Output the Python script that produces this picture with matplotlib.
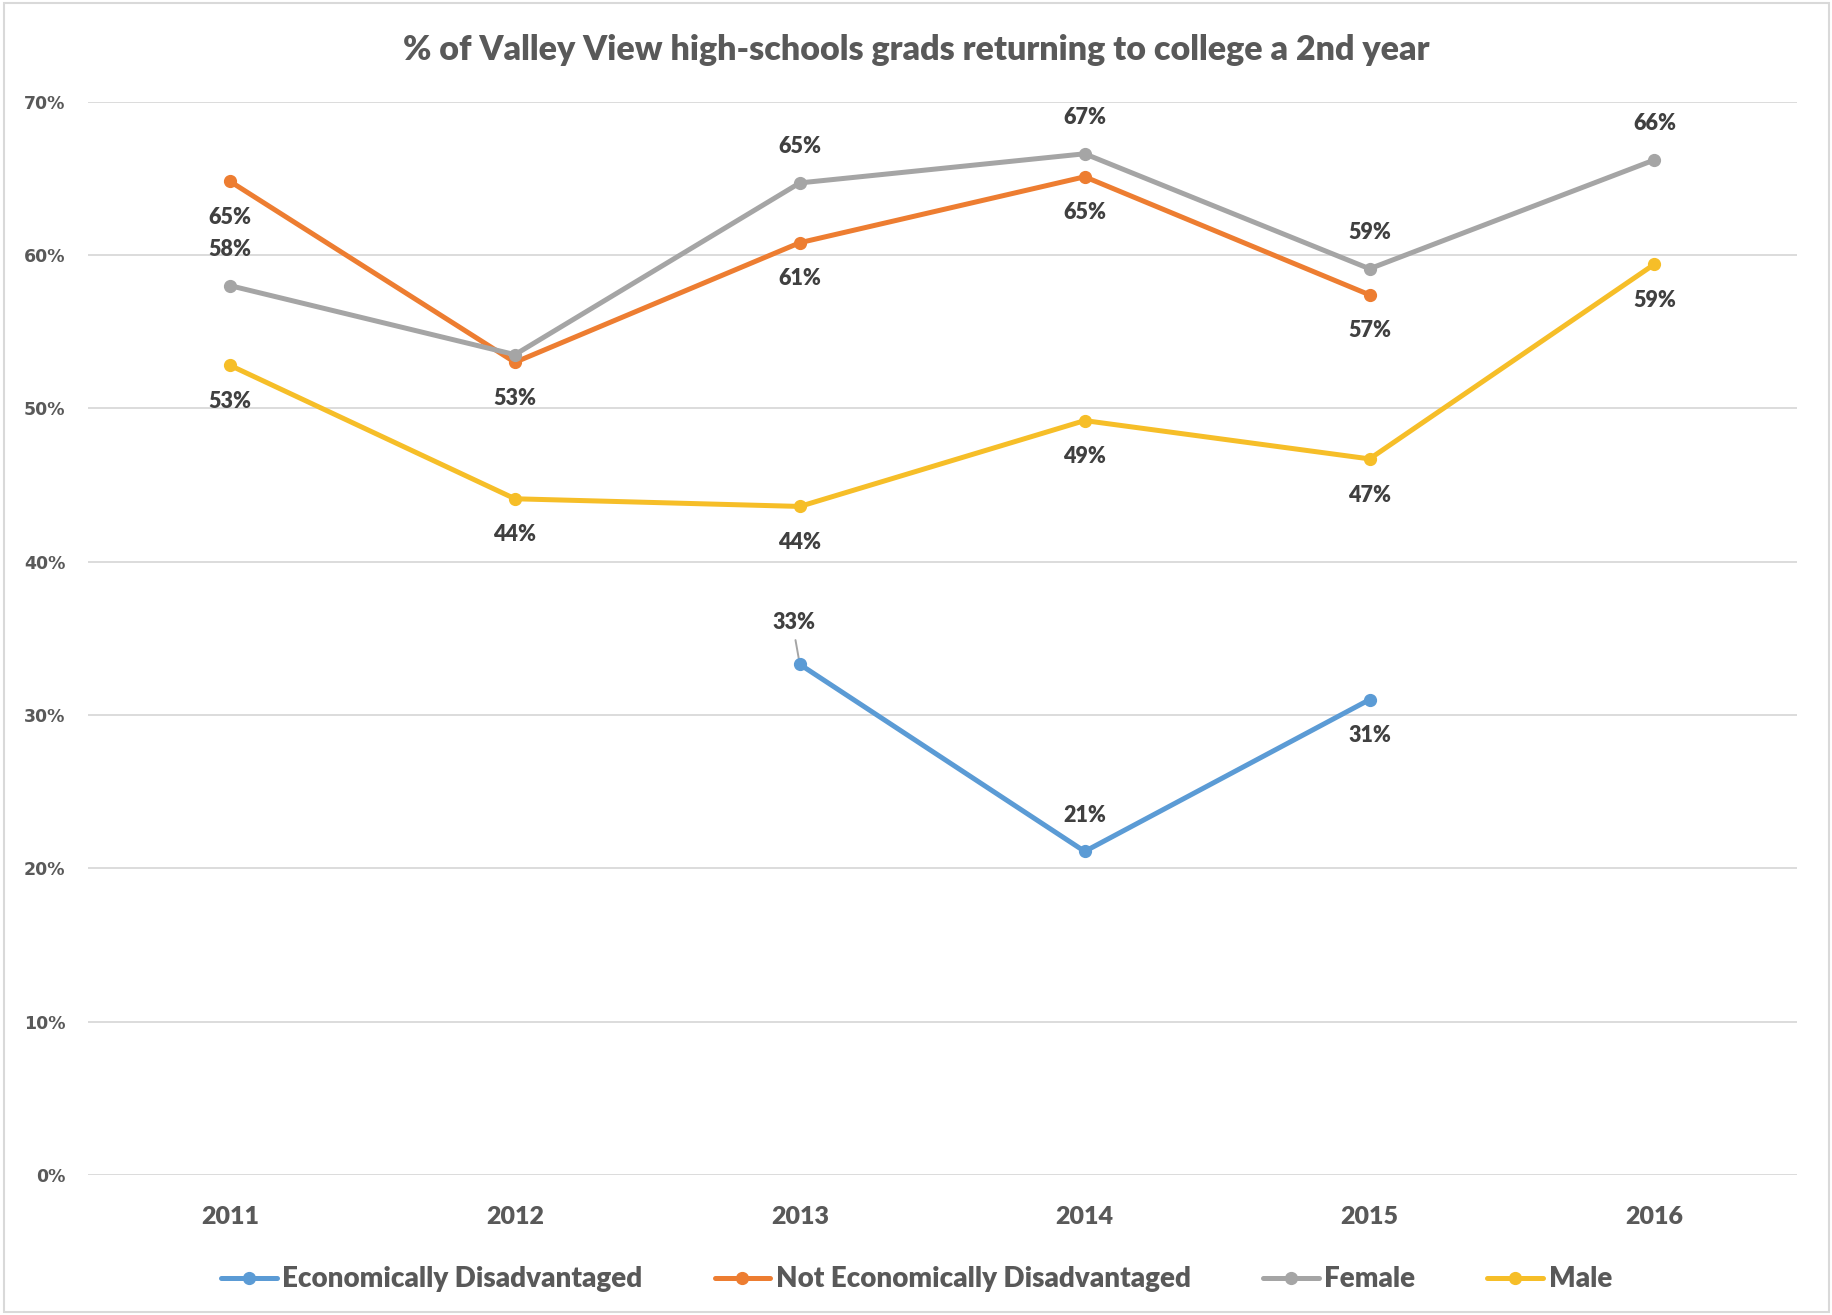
import numpy as np
import matplotlib.pyplot as plt
from matplotlib.patches import Rectangle

years = ["2011", "2012", "2013", "2014", "2015", "2016"]

econ_dis = [np.nan, np.nan, 33.3, 21.1, 31.0, np.nan]
not_econ = [64.8, 53.0, 60.8, 65.1, 57.4, np.nan]
female = [58.0, 53.5, 64.7, 66.6, 59.1, 66.2]
male = [52.8, 44.1, 43.6, 49.2, 46.7, 59.4]

# label placement per point: 1 above, -1 below, 0 none
econ_pos = [0, 0, 1, 1, -1, 0]
not_econ_pos = [-1, -1, -1, -1, -1, 0]
female_pos = [1, 0, 1, 1, 1, 1]
male_pos = [-1, -1, -1, -1, -1, -1]

series = [
    ("Economically Disadvantaged", econ_dis, econ_pos, "#5B9BD5"),
    ("Not Economically Disadvantaged", not_econ, not_econ_pos, "#ED7D31"),
    ("Female", female, female_pos, "#A5A5A5"),
    ("Male", male, male_pos, "#F6BE28"),
]

plt.rcParams['font.family'] = ['Lato', 'DejaVu Sans']

fig = plt.figure(figsize=(18.33, 13.15), dpi=100)
ax = fig.add_axes([0.0478, 0.1065, 0.9325, 0.8162])

x = np.arange(len(years))
for name, vals, pos, color in series:
    vals = np.array(vals, dtype=float)
    ax.plot(x, vals, color=color, lw=3.6, marker="o", ms=8.5, label=name,
            solid_capstyle="round", zorder=3)
    for i, (v, p) in enumerate(zip(vals, pos)):
        if p == 0 or np.isnan(v):
            continue
        off = 26 if p > 0 else -26
        if name == "Economically Disadvantaged" and i == 2:
            # leader line to a label pulled further up
            ax.annotate(f"{v:.0f}%", (i, v), xytext=(-4, 30), textcoords="offset points",
                        ha="center", va="center", fontsize=15.5, fontweight=800,
                        color="#404040",
                        arrowprops=dict(arrowstyle="-", color="#A5A5A5", lw=1.4,
                                        shrinkA=3, shrinkB=0, relpos=(0.5, 0.0)),
                        zorder=2)
            continue
        ax.annotate(f"{v:.0f}%", (i, v), xytext=(0, off), textcoords="offset points",
                    ha="center", va="center", fontsize=15.5, fontweight=800,
                    color="#404040")

ax.set_xlim(-0.5, 5.5)
ax.set_ylim(0, 70)
ax.set_xticks(x)
ax.set_xticklabels(years, fontsize=18, fontweight=800, color="#595959")
ax.set_yticks(np.arange(0, 71, 10))
ax.set_yticklabels([f"{t}%" for t in range(0, 71, 10)], fontsize=12.5,
                   fontweight="bold", color="#595959", family="DejaVu Sans")
ax.tick_params(length=0, pad=16)
ax.tick_params(axis="x", pad=22)
ax.grid(axis="y", color="#D9D9D9", lw=1.3)
ax.set_axisbelow(True)
for s in ax.spines.values():
    s.set_visible(False)

fig.text(0.5, 0.962, "% of Valley View high-schools grads returning to college a 2nd year",
         ha="center", va="center", fontsize=24.5, fontweight=800, color="#595959")

fig.legend(loc="center", bbox_to_anchor=(0.5, 0.027), ncol=4, frameon=False,
           handlelength=2.0, handletextpad=0.2, columnspacing=2.6,
           labelcolor="#595959", prop={"family": "Lato", "weight": 800, "size": 20})

fig.patches.append(Rectangle((0.002, 0.002), 0.996, 0.996, transform=fig.transFigure,
                             fill=False, edgecolor="#D9D9D9", lw=1.5))

fig.savefig("out.png", dpi=100)
